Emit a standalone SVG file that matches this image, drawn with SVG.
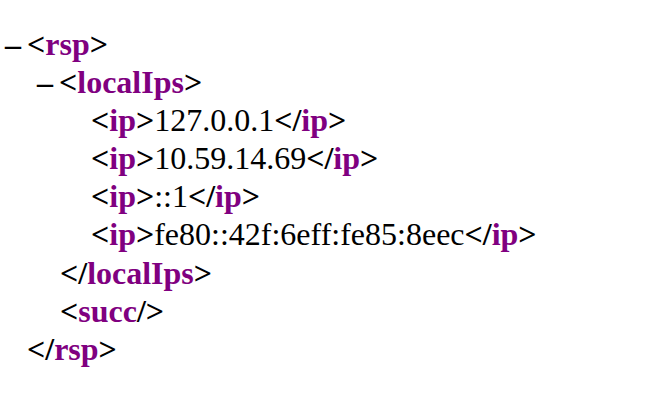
<svg xmlns="http://www.w3.org/2000/svg" width="662" height="412" viewBox="0 0 662 412">
<style>
.b{font-weight:bold}
.t{font-weight:bold;fill:#800080}
</style>
<rect width="662" height="412" fill="#fff"/>
<g font-family="'Liberation Serif', 'Times New Roman', serif" font-size="32" fill="#000">
<g id="rsp-open"><text x="5" y="55" class="b">–</text><text x="27" y="55"><tspan class="b">&lt;</tspan><tspan class="t">rsp</tspan><tspan class="b">&gt;</tspan></text></g>
<g id="localIps-open"><text x="37" y="93" class="b">–</text><text x="59" y="93"><tspan class="b">&lt;</tspan><tspan class="t">localIps</tspan><tspan class="b">&gt;</tspan></text></g>
<g id="ip1"><text x="91" y="131"><tspan class="b">&lt;</tspan><tspan class="t">ip</tspan><tspan class="b">&gt;</tspan>127.0.0.1<tspan class="b">&lt;/</tspan><tspan class="t">ip</tspan><tspan class="b">&gt;</tspan></text></g>
<g id="ip2"><text x="91" y="169"><tspan class="b">&lt;</tspan><tspan class="t">ip</tspan><tspan class="b">&gt;</tspan>10.59.14.69<tspan class="b">&lt;/</tspan><tspan class="t">ip</tspan><tspan class="b">&gt;</tspan></text></g>
<g id="ip3"><text x="91" y="207"><tspan class="b">&lt;</tspan><tspan class="t">ip</tspan><tspan class="b">&gt;</tspan>::1<tspan class="b">&lt;/</tspan><tspan class="t">ip</tspan><tspan class="b">&gt;</tspan></text></g>
<g id="ip4"><text x="91" y="245"><tspan class="b">&lt;</tspan><tspan class="t">ip</tspan><tspan class="b">&gt;</tspan>fe80::42f:6eff:fe85:8eec<tspan class="b">&lt;/</tspan><tspan class="t">ip</tspan><tspan class="b">&gt;</tspan></text></g>
<g id="localIps-close"><text x="60" y="284"><tspan class="b">&lt;/</tspan><tspan class="t">localIps</tspan><tspan class="b">&gt;</tspan></text></g>
<g id="succ"><text x="60" y="322"><tspan class="b">&lt;</tspan><tspan class="t">succ</tspan><tspan class="b">/&gt;</tspan></text></g>
<g id="rsp-close"><text x="27" y="360"><tspan class="b">&lt;/</tspan><tspan class="t">rsp</tspan><tspan class="b">&gt;</tspan></text></g>
</g>
</svg>
